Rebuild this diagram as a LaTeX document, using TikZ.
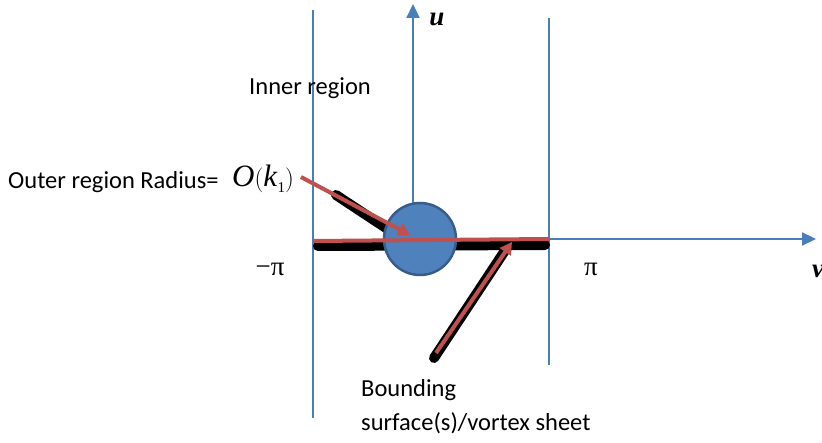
\documentclass[tikz,border=0pt]{standalone}
\usepackage{fontspec}
\setmainfont{Carlito}
\newfontfamily\tnr{Liberation Serif}
\usetikzlibrary{arrows.meta}
\definecolor{axisblue}{HTML}{4A7EBB}
\definecolor{fillblue}{HTML}{4F81BD}
\definecolor{edgeblue}{HTML}{385D8A}
\definecolor{redarr}{HTML}{C0504D}
\tikzset{
  axisline/.style={draw=axisblue, line width=2.2pt},
  axisarrow/.style={axisline, -{Triangle[width=13pt,length=14pt]}},
  shadowline/.style={draw=black, line width=10pt, line cap=round},
  redline/.style={draw=redarr, line width=4pt},
  redarrow/.style={redline, -{Triangle[width=13pt,length=12pt]}},
  lbl/.style={inner sep=0pt, font=\fontsize{24.5}{28}\selectfont},
  mathlbl/.style={inner sep=0pt, font=\tnr\fontsize{27}{30}\selectfont},
}
\begin{document}
\begin{tikzpicture}[x=1pt,y=-1pt]
\useasboundingbox (0,0) rectangle (822,443);
\fill[white] (0,0) rectangle (822,443);
% coordinates
\coordinate (lt) at (313,10);
\coordinate (lb) at (313,418);
\coordinate (rt) at (549,18);
\coordinate (rb) at (549,365);
\coordinate (orig) at (413,239);
\coordinate (utip) at (413,4);
\coordinate (vstart) at (549,239);
\coordinate (vtip) at (816,239);
\coordinate (hl) at (313,241);
\coordinate (hr) at (549,239);
\coordinate (a1s) at (301,177);
\coordinate (a1e) at (410,235);
\coordinate (a2s) at (436,353);
\coordinate (a2e) at (512,242);
\coordinate (s1a) at (318,246);
\coordinate (s1b) at (545,245);
\coordinate (s2a) at (336,195);
\coordinate (s2b) at (392,232);
\coordinate (s3a) at (434,358);
\coordinate (s3b) at (508,246);
% vertical boundary lines
\draw[axisline] (lt) -- (lb);
\draw[axisline] (rt) -- (rb);
% axes
\draw[axisarrow] (orig) -- (utip);
\draw[axisarrow] (vstart) -- (vtip);
% shadows
\draw[shadowline] (s1a) -- (s1b);
\draw[shadowline] (s2a) -- (s2b);
\draw[shadowline] (s3a) -- (s3b);
% circle
\node[circle, draw=edgeblue, line width=2.5pt, fill=fillblue, minimum size=72pt, inner sep=0pt] (disc) at (420,239) {};
% red lines
\draw[redline] (hl) -- (hr);
\draw[redarrow] (a1s) -- (a1e);
\draw[redarrow] (a2s) -- (a2e);
% labels
\node[lbl] (inner) at (310,88) {Inner region};
\node[lbl, anchor=west] (outer) at (8,182) {Outer region Radius=};
\node[mathlbl, anchor=west, font=\tnr\fontsize{31}{34}\selectfont] (ok) at (232,179) {\textit{O}$\Big($\textit{k}\raisebox{-6pt}{\fontsize{15}{16}\selectfont 1}$\Big)$};
\node[mathlbl] (mpi) at (270,269) {\textminus π};
\node[mathlbl] (ppi) at (591,269) {π};
\node[mathlbl, font=\tnr\bfseries\itshape\fontsize{27}{30}\selectfont] (ulab) at (437,19) {u};
\node[mathlbl, font=\tnr\bfseries\itshape\fontsize{27}{30}\selectfont] (vlab) at (818,271) {v};
\node[lbl, anchor=west] (bound1) at (361,390) {Bounding};
\node[lbl, anchor=west] (bound2) at (361,423) {surface(s)/vortex sheet};
\end{tikzpicture}
\end{document}
